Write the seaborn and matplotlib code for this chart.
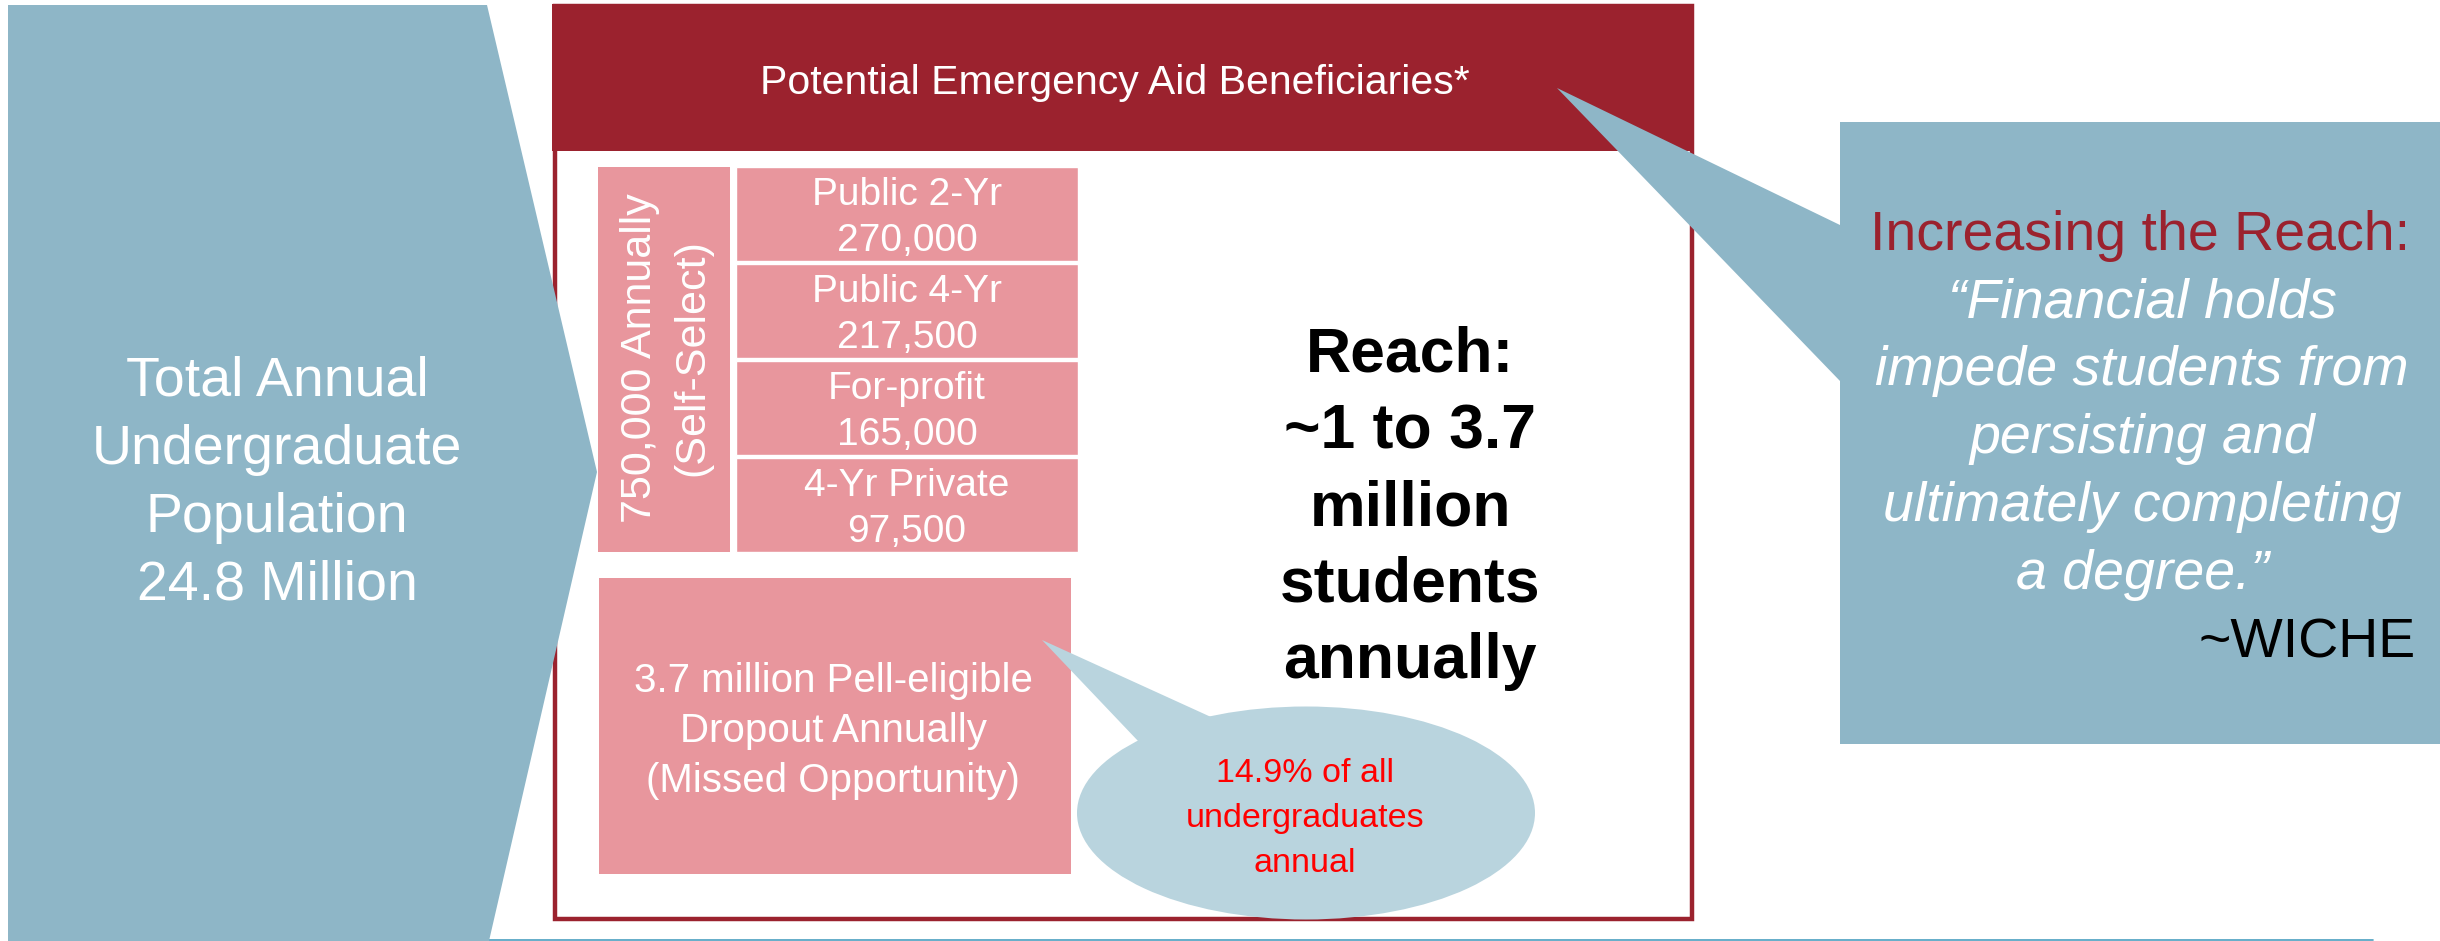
import matplotlib
matplotlib.use("Agg")
import matplotlib.pyplot as plt
import seaborn as sns
import pandas as pd
from matplotlib.patches import Polygon, Rectangle, Ellipse

# ---------------- data ----------------
sectors = ["Public 2-Yr", "Public 4-Yr", "For-profit", "4-Yr Private"]
sector_counts = [270000, 217500, 165000, 97500]
total_self_select = 750000
total_undergrad_millions = 24.8
pell_dropout_millions = 3.7
pell_share_pct = 14.9
reach_low_millions = 1
reach_high_millions = 3.7
header_title = "Potential Emergency Aid Beneficiaries*"
callout_title = "Increasing the Reach:"
quote_lines = ["\u201cFinancial holds", "impede students from", "persisting and",
               "ultimately completing", "a degree.\u201d"]
quote_source = "~WICHE"

# ---------------- style ----------------
sns.set_theme(style="white")
plt.rcParams['font.family'] = ['Liberation Sans', 'DejaVu Sans']

BLUE = "#8EB6C7"
RED = "#9B222E"
PINK = "#E8969D"
LIGHTBLUE = "#B9D4DE"

W, H = 2440, 941
fig = plt.figure(figsize=(24.4, 9.41), dpi=100)
fig.patch.set_facecolor("white")
ax = fig.add_axes([0, 0, 1, 1])
ax.set_xlim(0, W)
ax.set_ylim(H, 0)
ax.axis("off")


def stack(x, y0, dy, lines, **kw):
    for i, s in enumerate(lines):
        ax.text(x, y0 + i * dy, s, va="baseline", **kw)


# bottom thin line
ax.plot([489, 2373], [939.5, 939.5], color="#4A9FC0", lw=1.2, zorder=1)

# red framed box with header
ax.add_patch(Rectangle((554.5, 6), 1137, 913, fill=False, ec=RED, lw=3.2, zorder=2))
ax.add_patch(Rectangle((552, 4), 1141, 147, fc=RED, ec="none", zorder=3))
ax.text(1115, 94, header_title, ha="center", va="baseline", color="white",
        fontsize=29.5, zorder=4)

# big left arrow (drawn over the red frame)
ax.add_patch(Polygon([(8, 5), (487, 5), (597, 472), (489, 941), (8, 941)],
                     closed=True, fc=BLUE, ec="none", zorder=5))
stack(277, 396, 68, ["Total Annual", "Undergraduate", "Population",
                     f"{total_undergrad_millions} Million"],
      ha="center", color="white", fontsize=40, zorder=6)

# vertical self-select box
ax.add_patch(Rectangle((598, 167), 132, 385, fc=PINK, ec="none", zorder=3))
ax.text(666, 358, f"{total_self_select:,} Annually\n(Self-Select)", rotation=90,
        ha="center", va="center", color="white", fontsize=31, linespacing=1.38,
        zorder=4)

# four sector rows via seaborn
rows_df = pd.DataFrame({"sector": sectors, "count": sector_counts})
rows_df["span"] = 1.0
ax_rows = fig.add_axes([736 / W, 1 - 553.5 / H, (1078 - 736) / W, 388 / H])
sns.barplot(data=rows_df, y="sector", x="span", orient="h", color=PINK,
            saturation=1, width=0.969, errorbar=None, ax=ax_rows)
ax_rows.set_xlim(0, 1)
ax_rows.set_ylim(len(sectors) - 0.5, -0.5)
ax_rows.axis("off")
ax_rows.patch.set_alpha(0)
for i, (name, cnt) in enumerate(zip(sectors, sector_counts)):
    ax_rows.text(0.5, i + 0.04, f"{name}\n{cnt:,}", ha="center", va="center",
                 color="white", fontsize=28, linespacing=1.34)

# Pell dropout box
ax.add_patch(Rectangle((599, 578), 472, 296, fc=PINK, ec="none", zorder=3))
stack(833, 692, 50, [f"{pell_dropout_millions} million Pell-eligible",
                     "Dropout Annually", "(Missed Opportunity)"],
      ha="center", color="white", fontsize=29, zorder=4)

# ellipse callout
ax.add_patch(Ellipse((1306, 813), 458, 213, fc=LIGHTBLUE, ec="none", zorder=3))
ax.add_patch(Polygon([(1042, 640), (1211, 717), (1230, 780), (1139, 742)],
                     closed=True, fc=LIGHTBLUE, ec="none", zorder=3.5))
stack(1305, 782, 45, [f"{pell_share_pct}% of all", "undergraduates", "annual"],
      ha="center", color="red", fontsize=24.5, zorder=4)

# Reach text
stack(1410, 372, 76.5, ["Reach:", f"~{reach_low_millions} to {reach_high_millions}",
                        "million", "students", "annually"],
      ha="center", color="black", fontsize=45, fontweight="bold", zorder=4)

# right callout with pointer
ax.add_patch(Polygon([(1557, 88), (1840, 225), (1840, 122), (2440, 122),
                      (2440, 744), (1840, 744), (1840, 381)],
                     closed=True, fc=BLUE, ec="none", zorder=5))
ax.text(2140, 250, callout_title, ha="center", va="baseline", color=RED,
        fontsize=40, zorder=6)
stack(2142, 317, 68, quote_lines, ha="center", color="white", fontsize=40,
      style="italic", zorder=6)
ax.text(2416, 658, quote_source, ha="right", va="baseline", color="black",
        fontsize=40, zorder=6)

fig.savefig("out.png", dpi=100, facecolor="white")
